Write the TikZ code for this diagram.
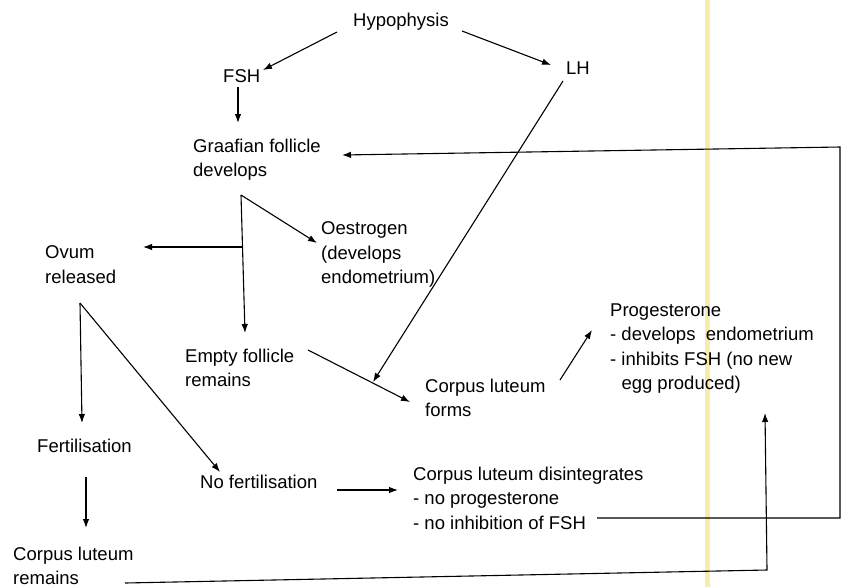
\documentclass[tikz,border=0pt]{standalone}
\usepackage{fontspec}
\setmainfont{Liberation Sans}
\usetikzlibrary{arrows.meta}
\definecolor{stripe}{RGB}{247,236,168}
\begin{document}
\begin{tikzpicture}[x=1pt,y=-1pt,
  lbl/.style={inner sep=0pt, font=\fontsize{18.5}{24.5}\selectfont, align=left},
  one/.style={lbl, anchor=base west},
  multi/.style={lbl, anchor=north west},
  arr/.style={line width=1.1pt, -{Latex[length=9pt,width=6.5pt]}},
  ln/.style={line width=1.1pt}]
\useasboundingbox (0,0) rectangle (842,587);
\fill[stripe] (705,0) rectangle (710,587);

% text nodes
\node[one] (hyp) at (353,26) {Hypophysis};
\node[one] (fsh) at (223,82) {FSH};
\node[one] (lh) at (566,74) {LH};
\node[multi] (graaf) at (193,138.5) {Graafian follicle\\develops};
\node[multi] (oes) at (321,221.5) {Oestrogen\\(develops\\endometrium)};
\node[multi] (ovum) at (45,245.5) {Ovum\\released};
\node[multi] (empty) at (185,348.5) {Empty follicle\\remains};
\node[one] (fert) at (37,452) {Fertilisation};
\node[one] (nofert) at (200,488) {No fertilisation};
\node[multi] (clrem) at (13,546.5) {Corpus luteum\\remains};
\node[multi] (clform) at (425,378.5) {Corpus luteum\\forms};
\node[multi] (prog) at (610,303.5) {Progesterone\\- develops\ \ endometrium\\- inhibits FSH (no new\\\phantom{- }egg produced)};
\node[multi] (cldis) at (413,466.5) {Corpus luteum disintegrates\\- no progesterone\\- no inhibition of FSH};

% connector end points
\coordinate (hypL) at (337,32);
\coordinate (fshT) at (263,70);
\coordinate (hypR) at (462,31);
\coordinate (lhT) at (551,65);
\coordinate (fshB) at (238,87);
\coordinate (graafT) at (238,123);
\coordinate (loopA) at (597,518);
\coordinate (loopB) at (840,518);
\coordinate (loopC) at (840,147);
\coordinate (graafR) at (342,155);
\coordinate (apex1) at (241,195);
\coordinate (oesT) at (317,243);
\coordinate (branch1) at (242.3,247);
\coordinate (ovumT) at (143,247);
\coordinate (emptyT) at (245,333);
\coordinate (apex2) at (80,303);
\coordinate (fertT) at (82,423);
\coordinate (nofertT) at (220,472);
\coordinate (fertB) at (86,477);
\coordinate (clremT) at (86,528);
\coordinate (nofertR) at (337,490);
\coordinate (cldisT) at (398,490);
\coordinate (emptyR) at (308,350);
\coordinate (clformT) at (410,402);
\coordinate (lhB) at (563,81);
\coordinate (lhTip) at (373,382);
\coordinate (clformR) at (560,380);
\coordinate (progT) at (592,330);
\coordinate (clremR) at (125,583);
\coordinate (corner) at (767,570);
\coordinate (progB) at (765,413);

% connectors
\draw[arr] (hypL) -- (fshT);
\draw[arr] (hypR) -- (lhT);
\draw[arr] (fshB) -- (graafT);
\draw[arr] (loopA) -- (loopB) -- (loopC) -- (graafR);
\draw[arr] (apex1) -- (oesT);
\draw[arr] (apex1) -- (emptyT);
\draw[arr] (branch1) -- (ovumT);
\draw[arr] (apex2) -- (fertT);
\draw[arr] (apex2) -- (nofertT);
\draw[arr] (fertB) -- (clremT);
\draw[arr] (nofertR) -- (cldisT);
\draw[arr] (emptyR) -- (clformT);
\draw[arr] (lhB) -- (lhTip);
\draw[arr] (clformR) -- (progT);
\draw[arr] (clremR) -- (corner) -- (progB);
\end{tikzpicture}
\end{document}
